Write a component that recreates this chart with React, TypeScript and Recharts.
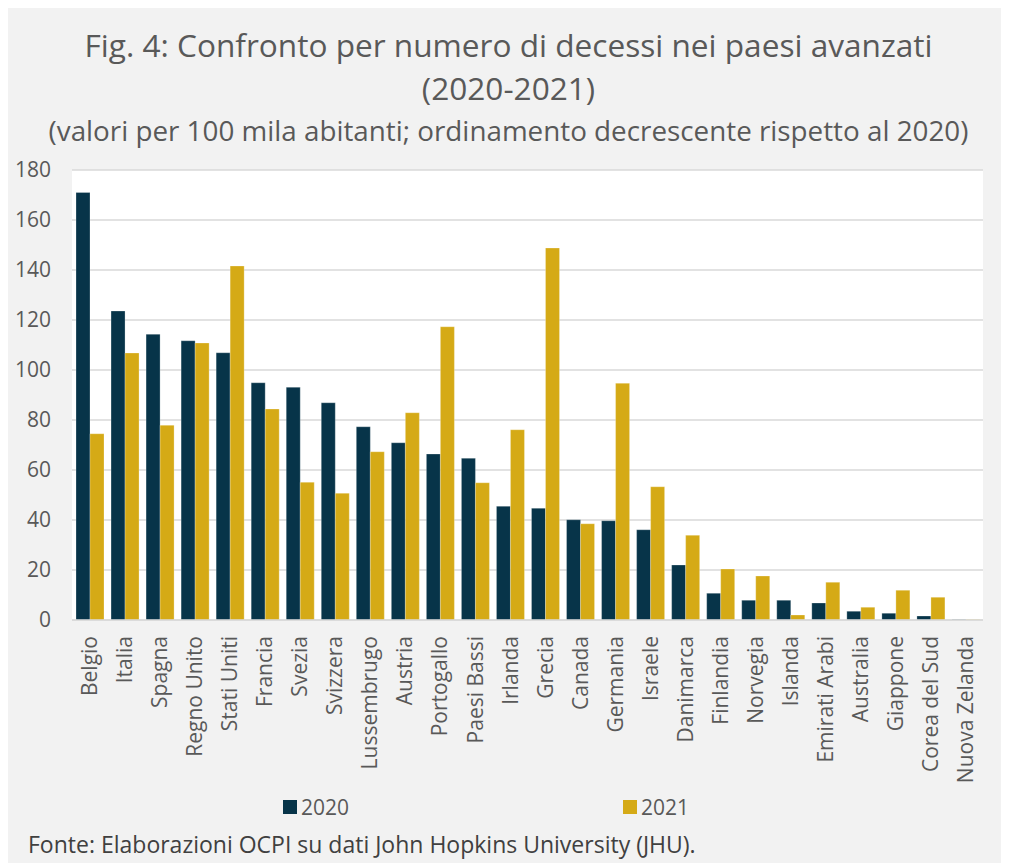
import { Bar, BarChart, CartesianGrid, XAxis, YAxis } from "recharts";

const countries = [
  "Belgio", "Italia", "Spagna", "Regno Unito", "Stati Uniti", "Francia", "Svezia",
  "Svizzera", "Lussembrugo", "Austria", "Portogallo", "Paesi Bassi", "Irlanda",
  "Grecia", "Canada", "Germania", "Israele", "Danimarca", "Finlandia", "Norvegia",
  "Islanda", "Emirati Arabi", "Australia", "Giappone", "Corea del Sud", "Nuova Zelanda",
];

const deaths2020 = [
  171, 123.6, 114.3, 111.7, 106.9, 94.9, 93.1, 86.9, 77.3, 70.9, 66.4, 64.7, 45.5,
  44.7, 40.1, 39.7, 36.1, 22, 10.7, 7.9, 7.9, 6.8, 3.5, 2.7, 1.6, 0.2,
];

const deaths2021 = [
  74.5, 106.8, 77.9, 110.8, 141.6, 84.4, 55.1, 50.7, 67.3, 82.9, 117.3, 54.9, 76.1,
  148.8, 38.5, 94.7, 53.3, 33.9, 20.4, 17.6, 2, 15.1, 5.1, 11.9, 9.1, 0.2,
];

const yTicks = [0, 20, 40, 60, 80, 100, 120, 140, 160, 180];

const data = countries.map((name, i) => ({
  name,
  y2020: deaths2020[i],
  y2021: deaths2021[i],
}));

const FONT = "'Open Sans', sans-serif";
const DARK = "#073449";
const GOLD = "#d5aa16";
const TEXT = "#595959";

const CountryTick = ({ x, y, payload }: any) => (
  <g transform={`translate(${x},${y})`}>
    <text
      transform="rotate(-90)"
      textAnchor="end"
      dy="0.36em"
      fill={TEXT}
      fontSize={21}
      fontFamily={FONT}
    >
      {payload.value}
    </text>
  </g>
);

const App = () => {
  return (
    <div
      style={{
        position: "relative",
        width: 1001,
        height: 855,
        background: "#f2f2f2",
        fontFamily: FONT,
        color: TEXT,
      }}
    >
      <div
        style={{
          position: "absolute",
          top: 15,
          left: 0,
          width: 1001,
          textAlign: "center",
          fontSize: 31.6,
          lineHeight: "43px",
        }}
      >
        Fig. 4: Confronto per numero di decessi nei paesi avanzati
        <br />
        (2020-2021)
      </div>
      <div
        style={{
          position: "absolute",
          top: 103,
          left: 0,
          width: 1001,
          textAlign: "center",
          fontSize: 27.8,
          lineHeight: "38px",
        }}
      >
        (valori per 100 mila abitanti; ordinamento decrescente rispetto al 2020)
      </div>

      <BarChart
        width={1001}
        height={855}
        data={data}
        margin={{ top: 162, right: 26, left: 0, bottom: 63 }}
        barCategoryGap="22%"
        barGap={0}
        style={{ position: "absolute", left: 0, top: 0 }}
      >
        <CartesianGrid
          vertical={false}
          stroke="#d9d9d9"
          strokeWidth={1.5}
          fill="#ffffff"
          fillOpacity={1}
        />
        <XAxis
          dataKey="name"
          interval={0}
          height={180}
          tickLine={false}
          axisLine={{ stroke: "#d9d9d9", strokeWidth: 1.5 }}
          tick={<CountryTick />}
          tickMargin={10}
        />
        <YAxis
          width={64}
          domain={[0, 180]}
          ticks={yTicks}
          interval={0}
          axisLine={false}
          tickLine={false}
          tickSize={0}
          tickMargin={21}
          tick={{ fill: TEXT, fontSize: 21, fontFamily: FONT }}
        />
        <Bar
          dataKey="y2020"
          name="2020"
          fill={DARK}
          barSize={14}
          stroke="#ffffff"
          strokeOpacity={0.25}
          strokeWidth={1}
          isAnimationActive={false}
        />
        <Bar
          dataKey="y2021"
          name="2021"
          fill={GOLD}
          barSize={14}
          stroke="#ffffff"
          strokeOpacity={0.25}
          strokeWidth={1}
          isAnimationActive={false}
        />
      </BarChart>

      <div
        style={{
          position: "absolute",
          top: 784,
          left: 275,
          display: "flex",
          alignItems: "center",
          fontSize: 21,
          lineHeight: "30px",
        }}
      >
        <span style={{ width: 14, height: 14, background: DARK, marginRight: 4 }} />
        <span>2020</span>
        <span style={{ width: 14, height: 14, background: GOLD, marginLeft: 274, marginRight: 4 }} />
        <span>2021</span>
      </div>

      <div
        style={{
          position: "absolute",
          top: 821,
          left: 20,
          fontSize: 23,
          lineHeight: "31px",
          color: "#404040",
        }}
      >
        Fonte: Elaborazioni OCPI su dati John Hopkins University (JHU).
      </div>
    </div>
  );
};

export default App;
